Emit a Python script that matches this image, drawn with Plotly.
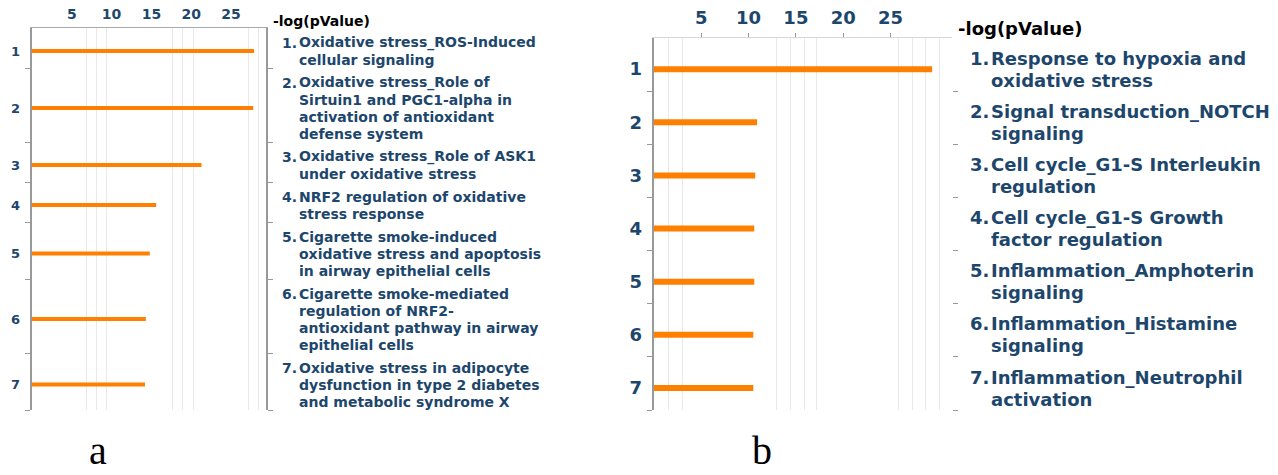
import plotly.graph_objects as go

# ---------------- data ----------------
labels_a = [
    "Oxidative stress_ROS-Induced<br>cellular signaling",
    "Oxidative stress_Role of<br>Sirtuin1 and PGC1-alpha in<br>activation of antioxidant<br>defense system",
    "Oxidative stress_Role of ASK1<br>under oxidative stress",
    "NRF2 regulation of oxidative<br>stress response",
    "Cigarette smoke-induced<br>oxidative stress and apoptosis<br>in airway epithelial cells",
    "Cigarette smoke-mediated<br>regulation of NRF2-<br>antioxidant pathway in airway<br>epithelial cells",
    "Oxidative stress in adipocyte<br>dysfunction in type 2 diabetes<br>and metabolic syndrome X",
]
values_a = [27.9, 27.8, 21.3, 15.6, 14.8, 14.3, 14.2]

labels_b = [
    "Response to hypoxia and<br>oxidative stress",
    "Signal transduction_NOTCH<br>signaling",
    "Cell cycle_G1-S Interleukin<br>regulation",
    "Cell cycle_G1-S Growth<br>factor regulation",
    "Inflammation_Amphoterin<br>signaling",
    "Inflammation_Histamine<br>signaling",
    "Inflammation_Neutrophil<br>activation",
]
values_b = [29.4, 10.9, 10.7, 10.6, 10.6, 10.5, 10.5]

x_ticks = [5, 10, 15, 20, 25]
grid_a = [6.8, 8.1, 9.4, 17.6, 18.9, 20.3, 27.2, 28.4]
grid_b = [1.5, 3.0, 13.0, 14.4, 15.9, 17.2, 25.8, 27.3, 28.7, 30.2]
axis_title = "-log(pValue)"
panel_names = ["a", "b"]

# ---------------- style / layout constants ----------------
W, H = 1278, 475
FONT = "DejaVu Sans"
TXT = "#1d466c"
ORANGE = "#ff8000"
AXIS = "#999999"

panels = [
    dict(labels=labels_a, values=values_a, grid=grid_a, left=32, right=266, top=28, bottom=410,
         xmax=29.4, line_h=17, lab_size=14, tick_size=14, num_size=13, title_size=14,
         text_x=298, title_x=272, title_y=21, bar_w=4, name_x=98, name_y=450,
         top_line="#aaaaaa", top_ticks="", standoff_x=2),
    dict(labels=labels_b, values=values_b, grid=grid_b, left=654, right=952, top=38, bottom=410,
         xmax=31.5, line_h=22, lab_size=18, tick_size=18, num_size=18, title_size=18,
         text_x=990, title_x=957, title_y=29, bar_w=6, name_x=762, name_y=450,
         top_line="#d8d8d8", top_ticks="outside", standoff_x=2),
]


def px_x(p):
    return p / W


def px_y(p):
    return (H - p) / H


fig = go.Figure()
annotations = []
layout = dict(
    width=W, height=H, margin=dict(l=0, r=0, t=0, b=0),
    paper_bgcolor="white", plot_bgcolor="white", showlegend=False,
    font=dict(family=FONT, color=TXT),
)

for i, p in enumerate(panels):
    xa = "x" if i == 0 else "x2"
    ya = "y" if i == 0 else "y2"
    xkey = "xaxis" if i == 0 else "xaxis2"
    ykey = "yaxis" if i == 0 else "yaxis2"

    nlines = [lab.count("<br>") + 1 for lab in p["labels"]]
    total = p["bottom"] - p["top"]
    gap = (total - p["line_h"] * sum(nlines)) / len(nlines)
    tops, centers, bounds = [], [], []
    cur = 0.0
    for n in nlines:
        tops.append(cur)
        centers.append(cur + gap + n * p["line_h"] / 2)
        cur += gap + n * p["line_h"]
        bounds.append(cur)

    fig.add_trace(go.Bar(
        x=p["values"], y=centers, orientation="h", width=p["bar_w"],
        marker=dict(color=ORANGE, line=dict(width=0)),
        xaxis=xa, yaxis=ya, hoverinfo="skip",
    ))

    dom_x = [px_x(p["left"]), px_x(p["right"])]
    dom_y = [px_y(p["bottom"]), px_y(p["top"])]

    layout[xkey] = dict(
        domain=dom_x, range=[0, p["xmax"]], anchor=ya, side="top",
        tickmode="array", tickvals=x_ticks, ticktext=[str(t) for t in x_ticks],
        tickfont=dict(family=FONT, size=p["tick_size"], color=TXT, weight="bold"),
        ticks=p["top_ticks"], ticklen=4, tickcolor=AXIS,
        showline=True, linecolor=p["top_line"], linewidth=1,
        showgrid=False, zeroline=False, ticklabelstandoff=p["standoff_x"],
        minor=dict(tickmode="array", tickvals=p["grid"], showgrid=True,
                   gridcolor="#e9e9e9", gridwidth=1, ticks=""),
    )
    layout[ykey] = dict(
        domain=dom_y, range=[total, 0], anchor=xa,
        tickmode="array", tickvals=centers, ticktext=[str(k + 1) for k in range(len(centers))],
        tickfont=dict(family=FONT, size=p["num_size"], color=TXT, weight="bold"),
        ticks="", showline=False, showgrid=False, zeroline=False, ticklabelstandoff=11,
    )

    # boundary tick axes
    if i == 0:
        layout["yaxis3"] = dict(
            overlaying="y", anchor="x", side="left", range=[total, 0],
            tickmode="array", tickvals=bounds, ticks="outside", ticklen=5, tickcolor=AXIS,
            showticklabels=False, showline=True, linecolor=AXIS, linewidth=1.5,
            mirror="ticks", showgrid=False, zeroline=False,
        )
        fig.add_trace(go.Scatter(x=[None], y=[None], xaxis="x", yaxis="y3", showlegend=False))
    else:
        layout["yaxis4"] = dict(
            overlaying="y2", anchor="x2", side="left", range=[total, 0],
            tickmode="array", tickvals=bounds, ticks="outside", ticklen=5, tickcolor=AXIS,
            showticklabels=False, showline=True, linecolor=AXIS, linewidth=1.5,
            showgrid=False, zeroline=False,
        )
        layout["yaxis5"] = dict(
            overlaying="y2", anchor="x2", side="right", range=[total, 0],
            tickmode="array", tickvals=bounds, ticks="outside", ticklen=5, tickcolor=AXIS,
            showticklabels=False, showline=False,
            showgrid=False, zeroline=False,
        )
        fig.add_trace(go.Scatter(x=[None], y=[None], xaxis="x2", yaxis="y4", showlegend=False))
        fig.add_trace(go.Scatter(x=[None], y=[None], xaxis="x2", yaxis="y5", showlegend=False))

    # labels, line by line
    lab_font = dict(family=FONT, size=p["lab_size"], color=TXT, weight="bold")
    for k, lab in enumerate(p["labels"]):
        lines = lab.split("<br>")
        for j, ln in enumerate(lines):
            yv = tops[k] + gap + (j + 0.5) * p["line_h"]
            annotations.append(dict(
                x=px_x(p["text_x"]), xref="paper", y=yv, yref=ya,
                text=ln, showarrow=False, xanchor="left", yanchor="middle",
                font=lab_font, borderpad=0,
            ))
            if j == 0:
                annotations.append(dict(
                    x=px_x(p["text_x"]), xref="paper", y=yv, yref=ya,
                    text=f"{k + 1}.", showarrow=False, xanchor="right", yanchor="middle",
                    font=lab_font, borderpad=0,
                ))

    # axis title
    annotations.append(dict(
        x=px_x(p["title_x"]), xref="paper", y=px_y(p["title_y"]), yref="paper",
        text=axis_title, showarrow=False, xanchor="left", yanchor="middle",
        font=dict(family=FONT, size=p["title_size"], color="black", weight="bold"),
        borderpad=0,
    ))
    # panel name
    annotations.append(dict(
        x=px_x(p["name_x"]), xref="paper", y=px_y(p["name_y"]), yref="paper",
        text=panel_names[i], showarrow=False, xanchor="center", yanchor="middle",
        font=dict(family="Liberation Serif", size=40, color="black"),
        borderpad=0,
    ))

layout["annotations"] = annotations
fig.update_layout(**layout)
fig.write_html("out.html")
